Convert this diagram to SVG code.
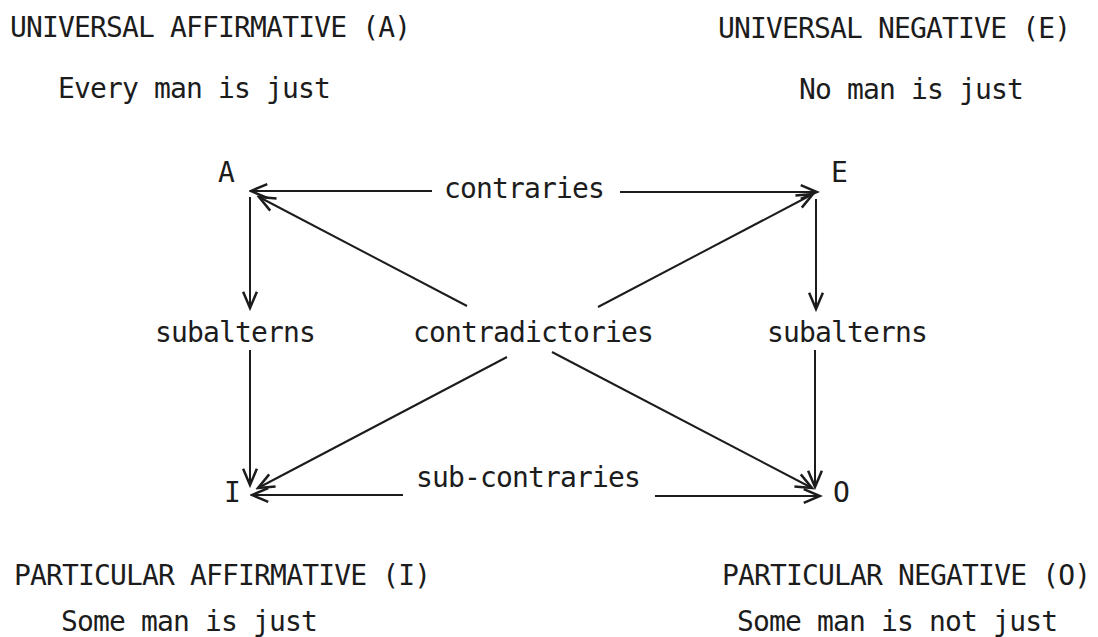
<svg xmlns="http://www.w3.org/2000/svg" width="1098" height="637" viewBox="0 0 1098 637">
<style>
text{font-family:"DejaVu Sans Mono","Liberation Mono",monospace;font-size:28px;letter-spacing:-0.85px;fill:#1c1c1c}
.c{stroke:#1c1c1c;stroke-width:2;fill:none}
</style>
<defs>
<marker id="ah" markerUnits="userSpaceOnUse" markerWidth="20" markerHeight="20" viewBox="-14 -8 16 16" refX="0" refY="0" orient="auto">
<path d="M-13,-5.5 L0,0 L-13,5.5" fill="none" stroke="#1c1c1c" stroke-width="2"/>
</marker>
</defs>
<rect width="1098" height="637" fill="#ffffff"/>
<g id="labels">
<text x="10" y="37">UNIVERSAL AFFIRMATIVE (A)</text>
<text x="58" y="98">Every man is just</text>
<text x="718" y="38">UNIVERSAL NEGATIVE (E)</text>
<text x="799" y="99">No man is just</text>
<text x="14" y="585">PARTICULAR AFFIRMATIVE (I)</text>
<text x="61" y="631">Some man is just</text>
<text x="722" y="585">PARTICULAR NEGATIVE (O)</text>
<text x="737" y="631">Some man is not just</text>
</g>
<g id="node-A"><text x="218" y="182">A</text></g>
<g id="node-E"><text x="831" y="182">E</text></g>
<g id="node-I"><text x="224" y="502">I</text></g>
<g id="node-O"><text x="833" y="502">O</text></g>
<g id="edge-labels">
<text x="444" y="198">contraries</text>
<text x="155" y="342">subalterns</text>
<text x="413" y="342">contradictories</text>
<text x="767" y="342">subalterns</text>
<text x="416" y="487">sub-contraries</text>
</g>
<g id="connectors">
<line class="c" x1="432" y1="191" x2="251" y2="191" marker-end="url(#ah)"/>
<line class="c" x1="620" y1="192" x2="817" y2="192" marker-end="url(#ah)"/>
<line class="c" x1="250" y1="197" x2="250" y2="308" marker-end="url(#ah)"/>
<line class="c" x1="250" y1="350" x2="250" y2="485" marker-end="url(#ah)"/>
<line class="c" x1="816" y1="199" x2="816" y2="309" marker-end="url(#ah)"/>
<line class="c" x1="815" y1="350" x2="815" y2="487" marker-end="url(#ah)"/>
<line class="c" x1="467" y1="306" x2="259" y2="197" marker-end="url(#ah)"/>
<line class="c" x1="598" y1="307" x2="813" y2="194" marker-end="url(#ah)"/>
<line class="c" x1="507" y1="357" x2="258" y2="488" marker-end="url(#ah)"/>
<line class="c" x1="552" y1="352" x2="812" y2="488" marker-end="url(#ah)"/>
<line class="c" x1="403" y1="495" x2="252" y2="495" marker-end="url(#ah)"/>
<line class="c" x1="655" y1="496" x2="820" y2="496" marker-end="url(#ah)"/>
</g>
</svg>
